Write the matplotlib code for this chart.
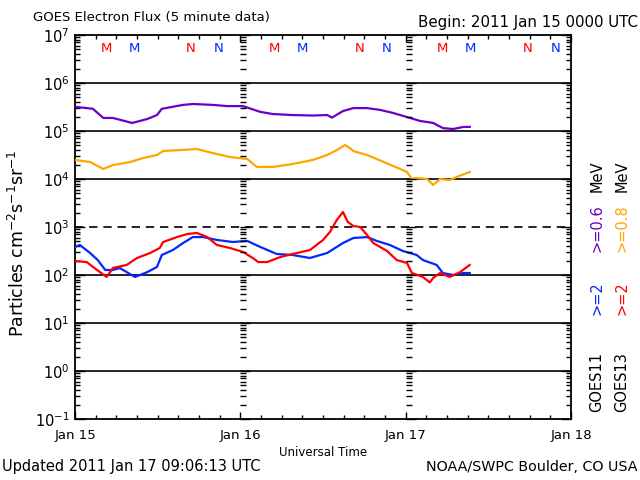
import matplotlib
matplotlib.use('Agg')
import matplotlib.pyplot as plt
from matplotlib.ticker import LogLocator, NullFormatter, FixedLocator, MultipleLocator

plt.rcParams['font.family'] = ['DejaVu Sans']

# ---------------- data (hours since 2011 Jan 15 00:00 UT) ----------------
purple_h = [0, 2.6, 4.1, 5.5, 8.3, 10.5, 11.9, 12.6, 15.7, 17.1, 20.0, 22.1, 24.4, 26.9, 28.7,
            31.6, 34.5, 36.6, 37.3, 38.9, 40.4, 42.4, 44.3, 46.2, 48.2, 50.1, 52.0, 53.4, 54.9, 56.3, 57.3]
purple_v = [3.2e5, 2.9e5, 1.87e5, 1.87e5, 1.47e5, 1.78e5, 2.15e5, 2.9e5, 3.5e5, 3.65e5, 3.5e5, 3.3e5,
            3.3e5, 2.5e5, 2.26e5, 2.15e5, 2.1e5, 2.15e5, 1.9e5, 2.6e5, 3.0e5, 3.0e5, 2.75e5, 2.37e5, 1.95e5,
            1.62e5, 1.47e5, 1.15e5, 1.1e5, 1.21e5, 1.22e5]

orange_h = [0, 2.2, 4.1, 5.5, 8.0, 9.9, 11.9, 12.8, 15.2, 17.7, 20.0, 22.5, 25.0, 26.4, 28.7, 31.6,
            34.5, 36.6, 38.0, 39.2, 39.9, 40.4, 41.4, 42.4, 43.8, 46.2, 48.2, 48.9, 49.6, 51.1, 52.0,
            53.0, 54.4, 55.4, 57.3]
orange_v = [2.49e4, 2.26e4, 1.62e4, 1.95e4, 2.26e4, 2.74e4, 3.16e4, 3.83e4, 4.0e4, 4.2e4, 3.47e4,
            2.87e4, 2.61e4, 1.78e4, 1.78e4, 2.05e4, 2.49e4, 3.16e4, 4.0e4, 5.1e4, 4.4e4, 3.83e4,
            3.47e4, 3.16e4, 2.61e4, 1.86e4, 1.4e4, 1.0e4, 1.05e4, 1.0e4, 7.5e3, 1.0e4, 9.5e3, 1.1e4, 1.4e4]

blue_h = [0, 0.7, 2.2, 3.3, 4.4, 5.5, 6.5, 7.5, 8.7, 10.5, 11.9, 12.6, 14.2, 15.7, 17.1, 18.6, 20.6,
          22.9, 25.0, 26.9, 29.3, 31.6, 34.1, 36.6, 38.9, 40.4, 42.4, 43.8, 45.7, 47.6, 49.6, 50.5,
          52.5, 53.4, 54.9, 56.3, 57.3]
blue_v = [383, 422, 287, 205, 127, 127, 140, 115, 91, 115, 147, 261, 331, 464, 617, 617, 537, 487,
          513, 383, 274, 261, 226, 287, 464, 589, 617, 513, 422, 316, 261, 205, 162, 110, 100, 110, 110]

red_h = [0, 1.7, 3.2, 4.6, 5.5, 7.5, 9.0, 10.9, 12.3, 12.8, 14.8, 16.3, 17.7, 19.2, 20.6, 22.5, 24.4,
         25.8, 26.6, 27.9, 29.8, 31.6, 34.1, 36.0, 37.0, 38.0, 38.9, 39.6, 40.4, 41.4, 42.4, 43.3,
         45.3, 46.7, 48.2, 48.9, 50.5, 51.5, 52.0, 53.0, 54.4, 55.9, 57.3]
red_v = [196, 186, 127, 91, 140, 162, 226, 287, 365, 487, 617, 714, 750, 617, 422, 365, 302, 226,
         186, 186, 237, 274, 331, 537, 787, 1400, 2050, 1270, 1050, 1000, 681, 464, 316, 205, 178,
         110, 91, 70, 87, 110, 91, 115, 162]

day_labels = ['Jan 15', 'Jan 16', 'Jan 17', 'Jan 18']
day_hours = [0, 24, 48, 72]

# local midnight (M) / noon (N) markers, hours
goes13_M = [4.6, 29.0, 53.4]
goes11_M = [8.7, 33.0, 57.4]
goes13_N = [16.8, 41.3, 65.7]
goes11_N = [20.8, 45.3, 69.7]

C_PURPLE = '#6a00c8'
C_ORANGE = '#ffa500'
C_BLUE = '#0028ff'
C_RED = '#ff0000'

# ---------------- figure ----------------
fig = plt.figure(figsize=(6.4, 4.8), dpi=100)
L, B, W, H = 75/640, 1-419/480, 496/640, 384/480
ax = fig.add_axes([L, B, W, H])
ax.set_yscale('log')
ax.set_xlim(0, 72)
ax.set_ylim(1e-1, 1e7)

for v in [1e6, 1e5, 1e4, 1e2, 1e1, 1e0]:
    ax.axhline(v, color='black', lw=1.2, zorder=1)
ax.axhline(1e3, color='black', lw=1.2, dashes=(5, 3.5), zorder=1)

lw = 1.6
ax.plot(purple_h, purple_v, color=C_PURPLE, lw=lw, zorder=3)
ax.plot(orange_h, orange_v, color=C_ORANGE, lw=lw, zorder=3)
ax.plot(blue_h, blue_v, color=C_BLUE, lw=lw, zorder=3)
ax.plot(red_h, red_v, color=C_RED, lw=lw, zorder=4)

# ticks
ax.yaxis.set_major_locator(LogLocator(base=10, numticks=20))
ax.yaxis.set_minor_locator(LogLocator(base=10, subs=range(2, 10), numticks=20))
ax.yaxis.set_minor_formatter(NullFormatter())
ax.xaxis.set_major_locator(FixedLocator(day_hours))
ax.set_xticklabels(day_labels)
ax.xaxis.set_minor_locator(MultipleLocator(3))
ax.tick_params(axis='both', which='both', direction='in', top=True, right=True, width=1.0)
ax.tick_params(axis='y', which='major', length=7, labelsize=10.5, pad=4)
ax.tick_params(axis='y', which='minor', length=3.5)
ax.tick_params(axis='x', which='major', length=5, labelsize=9.5, pad=7)
ax.tick_params(axis='x', which='minor', length=3)
for s in ax.spines.values():
    s.set_linewidth(1.3)

ax.set_xlabel('Universal Time', fontsize=8.5, labelpad=3)
ax.set_ylabel('Particles cm$^{-2}$s$^{-1}$sr$^{-1}$', fontsize=12.5)
ax.yaxis.set_label_coords(-0.095, 0.458)

# day-boundary tick columns
for d in day_hours[1:3]:
    xf = L + W * d / 72
    tax = fig.add_axes([xf, B, 0.001, H])
    tax.set_yscale('log')
    tax.set_ylim(1e-1, 1e7)
    tax.patch.set_visible(False)
    for s in tax.spines.values():
        s.set_visible(False)
    tax.set_xticks([])
    tax.yaxis.set_major_locator(LogLocator(base=10, numticks=20))
    tax.yaxis.set_minor_locator(LogLocator(base=10, subs=range(2, 10), numticks=20))
    tax.tick_params(axis='y', which='both', direction='in', labelleft=False, width=1.0)
    tax.tick_params(axis='y', which='major', length=7)
    tax.tick_params(axis='y', which='minor', length=4)

# M / N markers
ymark = 5.3e6
for xs, txt, c in [(goes13_M, 'M', C_RED), (goes11_M, 'M', C_BLUE),
                   (goes13_N, 'N', C_RED), (goes11_N, 'N', C_BLUE)]:
    for x in xs:
        ax.text(x, ymark, txt, color=c, fontsize=9.5, ha='center', va='center', zorder=5)

# texts
fig.text(33/640, 1-18/480, 'GOES Electron Flux (5 minute data)', fontsize=9.5, ha='left', va='center')
fig.text(638/640, 1-22/480, 'Begin: 2011 Jan 15 0000 UTC', fontsize=10.8, ha='right', va='center')
fig.text(2/640, 1-467/480, 'Updated 2011 Jan 17 09:06:13 UTC', fontsize=10.5, ha='left', va='center')
fig.text(638/640, 1-467/480, 'NOAA/SWPC Boulder, CO USA', fontsize=10.3, ha='right', va='center')

# right-side legend (rotated)
col1, col2 = 597/640, 622/640
leg = [('GOES11', 'GOES13', 'black', 'black', 382),
       ('>=2', '>=2', C_BLUE, C_RED, 298),
       ('>=0.6', '>=0.8', C_PURPLE, C_ORANGE, 228),
       ('MeV', 'MeV', 'black', 'black', 176)]
for t1, t2, c1, c2, yc in leg:
    fig.text(col1, 1-yc/480, t1, color=c1, rotation=90, fontsize=10.5, ha='center', va='center')
    fig.text(col2, 1-yc/480, t2, color=c2, rotation=90, fontsize=10.5, ha='center', va='center')

fig.savefig('out.png', dpi=100)
